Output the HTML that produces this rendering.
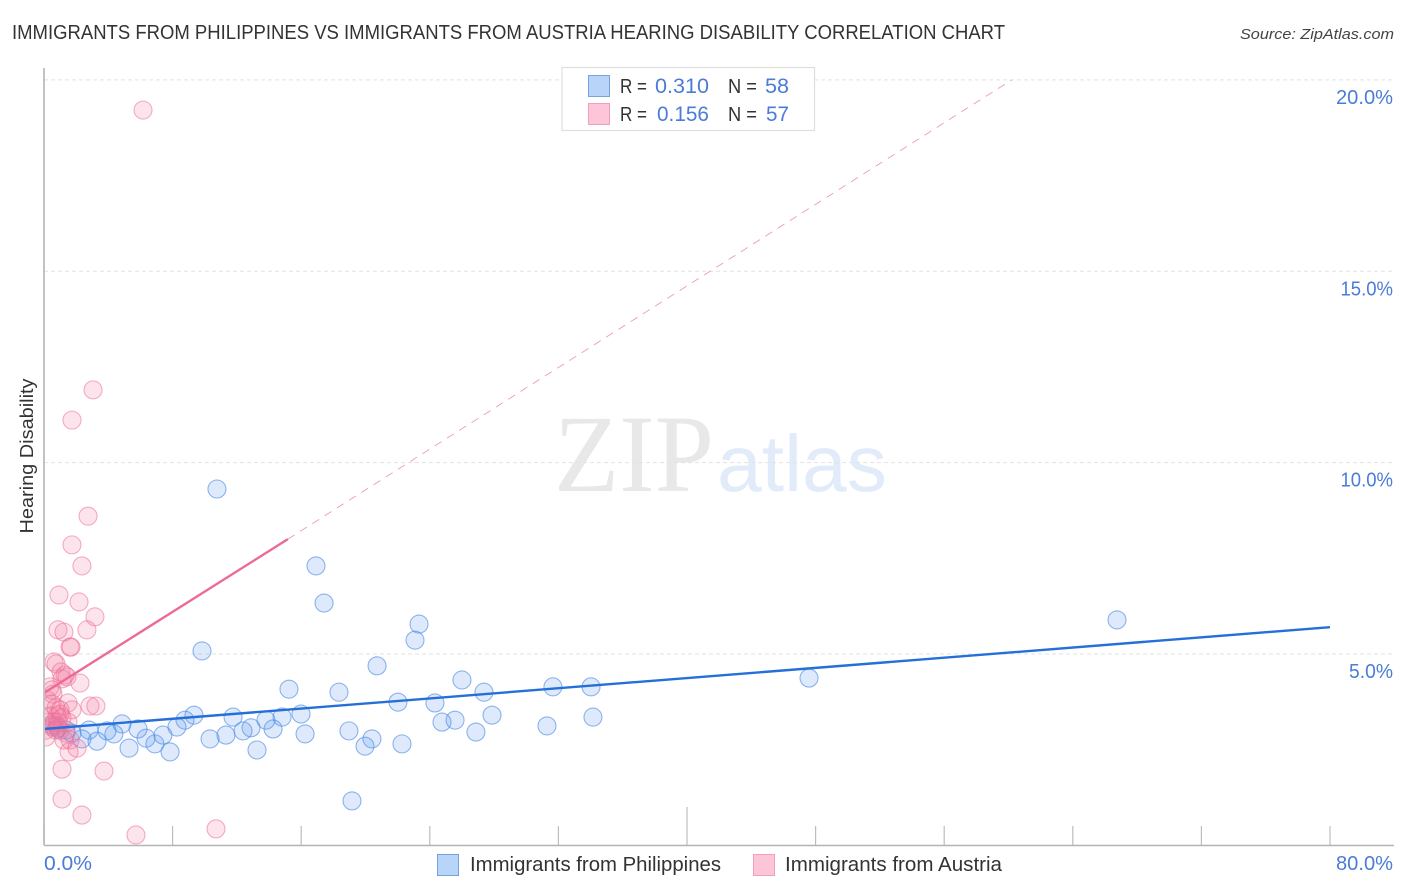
<!DOCTYPE html>
<html lang="en">
<head>
<meta charset="utf-8">
<title>Immigrants from Philippines vs Immigrants from Austria Hearing Disability Correlation Chart</title>
<style>
html,body{margin:0;padding:0;background:#fff;}
svg{display:block;font-family:"Liberation Sans",sans-serif;}
</style>
</head>
<body>
<svg id="chart" width="1406" height="892" viewBox="0 0 1406 892" xmlns="http://www.w3.org/2000/svg">
  <defs><clipPath id="plot-clip"><rect x="45" y="68" width="1349" height="777"/></clipPath></defs>
  <rect x="0" y="0" width="1406" height="892" fill="#fff"/>
  <text x="12" y="39" font-size="20" fill="#333" textLength="993" lengthAdjust="spacingAndGlyphs">IMMIGRANTS FROM PHILIPPINES VS IMMIGRANTS FROM AUSTRIA HEARING DISABILITY CORRELATION CHART</text>
  <text x="1394" y="39" font-size="15" font-style="italic" fill="#444" text-anchor="end" textLength="154" lengthAdjust="spacingAndGlyphs">Source: ZipAtlas.com</text>

  <g>
    <text x="554" y="491" font-family="'Liberation Serif',serif" font-size="110" fill="#e8e8e8" textLength="160" lengthAdjust="spacingAndGlyphs">ZIP</text>
    <text x="717" y="491" font-size="80" fill="#e2ebf9" textLength="170" lengthAdjust="spacingAndGlyphs">atlas</text>
  </g>

  <g id="grid"></g>
  <g id="ticks"></g>
  <g id="ylabels"></g>

  <g id="points" clip-path="url(#plot-clip)"></g>
  <g id="trends" clip-path="url(#plot-clip)"></g>

  <line x1="44" y1="68" x2="44" y2="845" stroke="#b4b4b4" stroke-width="1.6"/>
  <line x1="44" y1="845.5" x2="1394" y2="845.5" stroke="#b4b4b4" stroke-width="1.6"/>

  <text transform="translate(33,456) rotate(-90)" font-size="18" fill="#333" text-anchor="middle" textLength="155" lengthAdjust="spacingAndGlyphs">Hearing Disability</text>

  <text x="44" y="870" font-size="20" fill="#4a7cd8" textLength="48" lengthAdjust="spacingAndGlyphs">0.0%</text>
  <text x="1393" y="870" font-size="20" fill="#4a7cd8" text-anchor="end" textLength="57" lengthAdjust="spacingAndGlyphs">80.0%</text>

  <g>
    <rect x="562" y="67.5" width="252.5" height="63" fill="#fff" stroke="#dedede" stroke-width="1.2"/>
    <rect x="588.5" y="75.5" width="21" height="21" fill="#b8d4f8" stroke="#74a3e4" stroke-width="1"/>
    <rect x="588.5" y="103.5" width="21" height="21" fill="#fcc6d8" stroke="#f0a0ba" stroke-width="1"/>
    <text x="620" y="93" font-size="20" fill="#333" textLength="27" lengthAdjust="spacingAndGlyphs">R =</text>
    <text x="655" y="93" font-size="21" fill="#4a7cd8" textLength="54" lengthAdjust="spacingAndGlyphs">0.310</text>
    <text x="728" y="93" font-size="20" fill="#333" textLength="29" lengthAdjust="spacingAndGlyphs">N =</text>
    <text x="765" y="93" font-size="21" fill="#4a7cd8" textLength="24" lengthAdjust="spacingAndGlyphs">58</text>
    <text x="620" y="121" font-size="20" fill="#333" textLength="27" lengthAdjust="spacingAndGlyphs">R =</text>
    <text x="657" y="121" font-size="21" fill="#4a7cd8" textLength="52" lengthAdjust="spacingAndGlyphs">0.156</text>
    <text x="728" y="121" font-size="20" fill="#333" textLength="29" lengthAdjust="spacingAndGlyphs">N =</text>
    <text x="766" y="121" font-size="21" fill="#4a7cd8" textLength="23" lengthAdjust="spacingAndGlyphs">57</text>
  </g>

  <g>
    <rect x="437.5" y="854.5" width="21" height="21" fill="#b8d4f8" stroke="#74a3e4" stroke-width="1"/>
    <text x="470" y="871" font-size="20" fill="#333" textLength="251" lengthAdjust="spacingAndGlyphs">Immigrants from Philippines</text>
    <rect x="753.5" y="854.5" width="21" height="21" fill="#fcc6d8" stroke="#f0a0ba" stroke-width="1"/>
    <text x="785" y="871" font-size="20" fill="#333" textLength="217" lengthAdjust="spacingAndGlyphs">Immigrants from Austria</text>
  </g>
</svg>

<script>
// Chart data (x and y are percentages)
var yTickValues = [5, 10, 15, 20];
var xTickValues = [0, 8, 16, 24, 32, 40, 48, 56, 64, 72, 80];
var xMajorTick = 40;

var philippinesX = [10.76,66.75,47.59,16.92,17.42,23.33,23.08,9.83,20.72,26.0,15.24,18.35,27.37,31.66,34.03,22.02,24.32,34.15,27.87,24.76,25.57,31.29,26.87,18.97,20.4,19.97,22.27,19.16,15.99,14.81,13.81,14.25,16.24,11.76,12.88,12.38,11.32,10.33,13.25,9.33,8.77,8.27,7.4,6.9,6.35,5.85,4.85,4.35,7.84,5.29,3.92,3.3,2.8,2.36,1.74,1.37,0.87,0.5];
var philippinesY = [9.31,5.89,4.37,7.30,6.33,5.78,5.36,5.08,4.69,4.32,4.08,4.0,4.0,4.14,4.14,3.74,3.72,3.35,3.4,3.22,3.27,3.12,2.96,2.99,2.78,2.59,2.65,1.16,3.43,3.35,3.27,3.04,2.91,3.35,3.07,2.99,2.88,2.78,2.49,3.4,3.27,3.09,2.88,2.65,2.8,3.04,3.17,2.91,2.44,2.54,2.99,2.72,3.01,2.78,2.93,3.01,3.06,3.14];

var austriaX = [6.16,3.05,1.74,2.74,1.74,2.36,0.93,2.18,3.17,2.67,0.87,1.24,1.62,1.68,0.62,0.75,1.06,1.31,1.12,1.43,2.24,0.37,0.56,0.19,0.5,2.86,3.23,1.49,1.74,0.5,0.75,0.37,0.81,1.0,0.19,0.62,1.12,1.49,0.5,0.81,0.12,1.0,1.37,1.62,0.12,0.75,1.24,1.56,2.05,1.12,3.73,1.12,2.36,5.72,10.7,1.0,0.87];
var austriaY = [19.21,11.9,11.11,8.6,7.85,7.3,6.54,6.36,5.97,5.63,5.63,5.57,5.18,5.18,4.79,4.74,4.53,4.45,4.35,4.4,4.24,4.14,3.95,3.8,4.06,3.64,3.64,3.72,3.54,3.69,3.59,3.38,3.38,3.43,3.22,3.22,3.33,3.22,3.09,3.12,3.01,3.01,2.93,2.75,2.83,3.01,2.75,2.44,2.54,1.99,1.94,1.21,0.79,0.27,0.43,3.54,3.22];

var philippinesTrendX = [0, 80];
var philippinesTrendY = [3.04, 5.70];
var austriaTrendX = [0, 15.17];
var austriaTrendY = [3.98, 8.0];
var austriaProjectionX = [15.17, 60.2];
var austriaProjectionY = [8.0, 20.0];

// Axis functions
function xScale(v) { return 44 + v * 16.075; }
function yScale(v) { return 845.3 - v * 38.27; }

var NS = 'http://www.w3.org/2000/svg';
function make(tag, attrs, parent) {
  var el = document.createElementNS(NS, tag);
  for (var k in attrs) el.setAttribute(k, attrs[k]);
  parent.appendChild(el);
  return el;
}

var grid = document.getElementById('grid');
var ticks = document.getElementById('ticks');
var ylabels = document.getElementById('ylabels');
var points = document.getElementById('points');
var trends = document.getElementById('trends');

yTickValues.forEach(function (v) {
  var line = make('line', {x1: 44, x2: 1394, y1: yScale(v), y2: yScale(v), stroke: '#e2e2e2', 'stroke-width': 1, 'stroke-dasharray': '4 3'}, grid);
  
  
  var label = make('text', {x: 1393, y: yScale(v) + 24, 'font-size': 20, fill: '#4a7cd8', 'text-anchor': 'end', lengthAdjust: 'spacingAndGlyphs'}, ylabels);
  
  
  label.setAttribute('textLength', v >= 20 ? 57 : (v >= 10 ? 52.5 : 44));
  label.textContent = v.toFixed(1) + '%';
});

xTickValues.forEach(function (v) {
  var top = v === xMajorTick ? 807 : 826;
  var tick = make('line', {x1: xScale(v), x2: xScale(v), y1: top, y2: 845, stroke: '#bdbdbd', 'stroke-width': 1.2}, ticks);
  
  
});

philippinesX.forEach(function (v, i) {
  var c = make('circle', {cx: xScale(v), cy: yScale(philippinesY[i]), r: 9, fill: 'rgba(90,150,240,0.2)', stroke: 'rgba(70,135,225,0.6)', 'stroke-width': 1.1}, points);
  
  
});

austriaX.forEach(function (v, i) {
  var c = make('circle', {cx: xScale(v), cy: yScale(austriaY[i]), r: 9, fill: 'rgba(245,120,160,0.2)', stroke: 'rgba(235,110,150,0.55)', 'stroke-width': 1.1}, points);
  
  
});

var projection = make('line', {x1: xScale(austriaProjectionX[0]), y1: yScale(austriaProjectionY[0]), x2: xScale(austriaProjectionX[1]), y2: yScale(austriaProjectionY[1]), stroke: '#ee9ab4', 'stroke-width': 0.9, 'stroke-dasharray': '8 6.5'}, trends);



var trendB = make('line', {x1: xScale(philippinesTrendX[0]), y1: yScale(philippinesTrendY[0]), x2: xScale(philippinesTrendX[1]), y2: yScale(philippinesTrendY[1]), stroke: '#2470d8', 'stroke-width': 2.4}, trends);



var trendP = make('line', {x1: xScale(austriaTrendX[0]), y1: yScale(austriaTrendY[0]), x2: xScale(austriaTrendX[1]), y2: yScale(austriaTrendY[1]), stroke: '#ec6a94', 'stroke-width': 2.4}, trends);


</script>
</body>
</html>
